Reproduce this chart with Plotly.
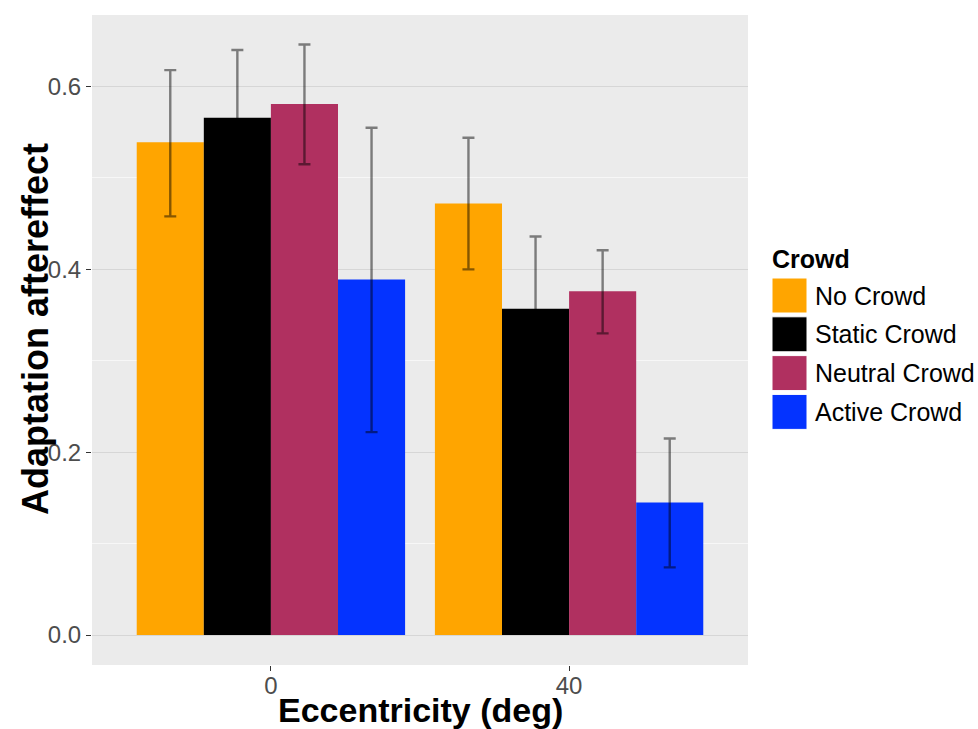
import plotly.graph_objects as go

# ---- data ----
eccentricity = ["0", "40"]
crowd_names = ["No Crowd", "Static Crowd", "Neutral Crowd", "Active Crowd"]
crowd_colors = ["#FFA500", "#000000", "#B03060", "#0433FF"]

no_crowd_mean = [0.539, 0.472]
static_crowd_mean = [0.566, 0.357]
neutral_crowd_mean = [0.581, 0.376]
active_crowd_mean = [0.389, 0.145]

no_crowd_upper = [0.618, 0.544]
static_crowd_upper = [0.640, 0.436]
neutral_crowd_upper = [0.646, 0.421]
active_crowd_upper = [0.555, 0.215]

no_crowd_lower = [0.458, 0.400]
static_crowd_lower = [0.492, 0.279]
neutral_crowd_lower = [0.515, 0.330]
active_crowd_lower = [0.222, 0.074]

y_ticks = [0.0, 0.2, 0.4, 0.6]
y_tick_labels = ["0.0", "0.2", "0.4", "0.6"]

means = [no_crowd_mean, static_crowd_mean, neutral_crowd_mean, active_crowd_mean]
uppers = [no_crowd_upper, static_crowd_upper, neutral_crowd_upper, active_crowd_upper]
lowers = [no_crowd_lower, static_crowd_lower, neutral_crowd_lower, active_crowd_lower]

W, H = 978, 729
ML, MR, MT, MB = 92, 230, 15, 64
PW, PH = W - ML - MR, H - MT - MB

def px_x(px):
    return (px - ML) / PW

def px_y(py):
    return (H - MB - py) / PH

fig = go.Figure()
for name, col, m, up, lo in zip(crowd_names, crowd_colors, means, uppers, lowers):
    fig.add_trace(go.Bar(
        x=eccentricity, y=m, name=name,
        marker=dict(color=col, line=dict(width=0)),
        error_y=dict(type="data", symmetric=False,
                     array=[u - v for u, v in zip(up, m)],
                     arrayminus=[v - l for v, l in zip(m, lo)],
                     color="rgba(0,0,0,0.48)", thickness=2.4, width=6),
        showlegend=False,
    ))

font_fam = "Liberation Sans, Arial, Helvetica, sans-serif"

fig.update_layout(
    width=W, height=H,
    margin=dict(l=ML, r=MR, t=MT, b=MB, pad=0),
    paper_bgcolor="white", plot_bgcolor="#EBEBEB",
    barmode="group", bargap=0.1, bargroupgap=0.0,
    font=dict(family=font_fam, color="#4D4D4D"),
    xaxis=dict(type="category", range=[-0.6, 1.6], showgrid=False, zeroline=False,
               ticks="outside", ticklen=5, tickcolor="#333333", tickwidth=1,
               ticklabelstandoff=-6,
               tickfont=dict(size=24, color="#4D4D4D"), showline=False),
    yaxis=dict(range=[-0.0328, 0.6783], tickvals=y_ticks, ticktext=y_tick_labels,
               showgrid=True, gridcolor="#D6D6D6", gridwidth=1.4, zeroline=False,
               ticks="outside", ticklen=5, tickcolor="#333333", tickwidth=1,
               tickfont=dict(size=24, color="#4D4D4D"), showline=False,
               minor=dict(tickvals=[0.1, 0.3, 0.5], showgrid=True, gridcolor="#F7F7F7",
                          gridwidth=1, ticks="")),
)

annotations = [
    dict(text="<b>Eccentricity (deg)</b>", xref="paper", yref="paper",
         x=px_x(420), y=px_y(710), xanchor="center", yanchor="middle",
         showarrow=False, font=dict(size=34, color="black", family=font_fam)),
    dict(text="<b>Adaptation aftereffect</b>", xref="paper", yref="paper",
         x=px_x(35), y=px_y(329), xanchor="center", yanchor="middle", textangle=-90,
         showarrow=False, font=dict(size=36, color="black", family=font_fam)),
    dict(text="<b>Crowd</b>", xref="paper", yref="paper",
         x=px_x(770), y=px_y(259), xanchor="left", yanchor="middle",
         showarrow=False, font=dict(size=25, color="black", family=font_fam)),
]

shapes = []
sq_left, sq_size, first_top, pitch = 772, 35, 278, 38.8
for i, (name, col) in enumerate(zip(crowd_names, crowd_colors)):
    top = first_top + i * pitch
    shapes.append(dict(type="rect", xref="paper", yref="paper",
                       x0=px_x(sq_left), x1=px_x(sq_left + sq_size),
                       y0=px_y(top + sq_size), y1=px_y(top),
                       fillcolor=col, line=dict(color="white", width=1)))
    annotations.append(dict(text=name, xref="paper", yref="paper",
                            x=px_x(813), y=px_y(top + sq_size / 2), xanchor="left",
                            yanchor="middle", showarrow=False,
                            font=dict(size=25, color="black", family=font_fam)))

fig.update_layout(annotations=annotations, shapes=shapes)
fig.write_html("out.html")
